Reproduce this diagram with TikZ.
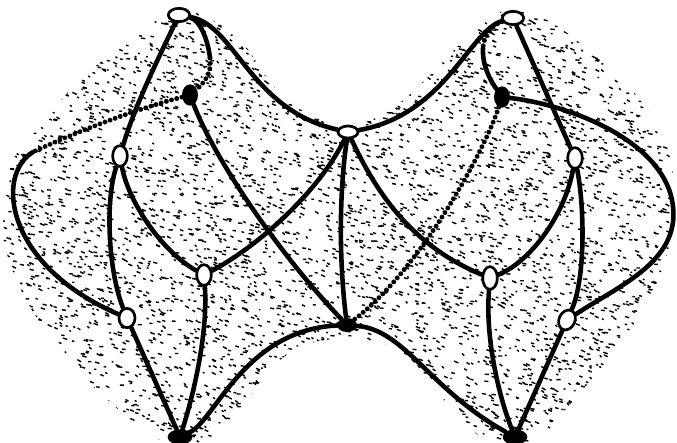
\documentclass[tikz,border=0pt]{standalone}
\usetikzlibrary{shapes.geometric,decorations.markings}
\pgfdeclarelayer{stip}
\pgfdeclarelayer{edges}
\pgfsetlayers{stip,edges,main}
\begin{document}
\begin{tikzpicture}[x=0.03cm,y=-0.03cm,
  edge/.style={line width=3.9pt, line cap=round},
  dotedge/.style={decorate, decoration={markings,
      mark=between positions 0 and 1 step 4.6pt with {\fill[black] (0,0) circle (2.1pt);}}},
  opennode/.style={ellipse, draw, line width=2.3pt, fill=white, inner sep=0pt},
  hnode/.style={opennode, minimum width=0.64cm, minimum height=0.4cm},
  vnode/.style={opennode, minimum width=0.44cm, minimum height=0.62cm},
  blacknode/.style={ellipse, fill=black, inner sep=0pt},
  vdot/.style={blacknode, minimum width=0.48cm, minimum height=0.64cm},
  hdot/.style={blacknode, minimum width=0.74cm, minimum height=0.46cm},
  speck/.style={line width=1.2pt, black}
]
\useasboundingbox (0,0) rectangle (677,442);

% nodes
\node[hnode] (A) at (179,15) {};
\node[vdot] (B) at (190,95) {};
\node[vnode] (C) at (120,156) {};
\node[hnode, minimum width=0.6cm, minimum height=0.36cm] (D) at (348,132) {};
\node[hnode] (E) at (513,18) {};
\node[vdot] (F) at (502,97) {};
\node[vnode] (G) at (575,158) {};
\node[vnode] (H) at (204,275) {};
\node[vnode, minimum width=0.48cm, minimum height=0.58cm] (I) at (127,318) {};
\node[hdot, minimum width=0.6cm, minimum height=0.42cm] (J) at (347,325) {};
\node[vnode, minimum height=0.68cm] (K) at (490,278) {};
\node[vnode, rotate=-25, minimum width=0.48cm] (L) at (567,320) {};
\node[hdot] (M) at (180,437) {};
\node[hdot] (N) at (515,437) {};
\coordinate (P1) at (33,152);
\coordinate (Q) at (672,200);
\coordinate (Pa) at (210,58);
\coordinate (Pe) at (483,48);

% stippled ground
\begin{pgfonlayer}{stip}
\begin{scope}
\clip plot[smooth cycle, tension=0.6] coordinates {
 (40,125) (85,75) (135,38) (172,10) (200,14) (240,40) (275,88) (310,115) (348,126)
 (390,110) (430,75) (470,35) (513,8) (555,25) (600,60) (640,100) (668,150)
 (674,215) (660,275) (630,330) (595,375) (565,410) (535,442) (490,440)
 (458,418) (428,378) (395,348) (347,338) (300,347) (268,372) (240,408)
 (205,442) (160,440) (110,402) (62,352) (22,292) (2,230) (8,170)};
\pgfmathsetseed{11}
\foreach \i in {1,...,5400}{
  \pgfmathsetmacro\sx{rnd*677}
  \pgfmathsetmacro\sy{rnd*442}
  \pgfmathsetmacro\dx{1.5+rnd*3}
  \pgfmathsetmacro\dy{rnd*2.2}
  \draw[speck] (\sx,\sy) -- ++(\dx,\dy);
}
\end{scope}
\end{pgfonlayer}

% connectors
\begin{pgfonlayer}{edges}
\draw[edge] (A) .. controls (160,55) and (135,105) .. (C);
\draw[edge] (C) .. controls (105,200) and (108,270) .. (I);
\draw[edge] (C) .. controls (128,200) and (160,250) .. (H);
\draw[edge] (H) .. controls (260,245) and (320,190) .. (D);
\draw[edge] (H) .. controls (208,330) and (195,390) .. (M);
\draw[edge] (I) -- (M);
\draw[edge] (B) .. controls (215,160) and (280,255) .. (J);
\path[dotedge] (B) .. controls (140,108) and (80,130) .. (P1);
\draw[edge] (P1) .. controls (-5,175) and (5,265) .. (I);
\draw[edge] (A) .. controls (200,20) and (208,40) .. (Pa);
\path[dotedge] (Pa) .. controls (212,72) and (205,82) .. (B);
\draw[edge] (A) .. controls (235,25) and (250,110) .. (D);
\draw[edge] (M) .. controls (215,420) and (245,330) .. (J);
\draw[edge] (D) .. controls (338,200) and (340,270) .. (J);
\draw[edge] (D) .. controls (375,190) and (410,245) .. (K);
\draw[edge] (J) .. controls (405,330) and (430,390) .. (N);
\draw[edge] (K) .. controls (485,340) and (500,400) .. (N);
\draw[edge] (L) -- (N);
\draw[edge] (G) .. controls (565,215) and (530,262) .. (K);
\draw[edge] (G) .. controls (585,210) and (585,280) .. (L);
\draw[edge] (F) .. controls (570,105) and (660,140) .. (Q) .. controls (684,260) and (620,285) .. (L);
\draw[edge] (E) .. controls (470,30) and (445,115) .. (D);
\path[dotedge] (E) .. controls (492,25) and (484,35) .. (Pe);
\draw[edge] (Pe) .. controls (482,65) and (490,80) .. (F);
\draw[edge] (E) -- (G);
\path[dotedge] (F) .. controls (485,150) and (420,270) .. (J);
\end{pgfonlayer}
\end{tikzpicture}
\end{document}
